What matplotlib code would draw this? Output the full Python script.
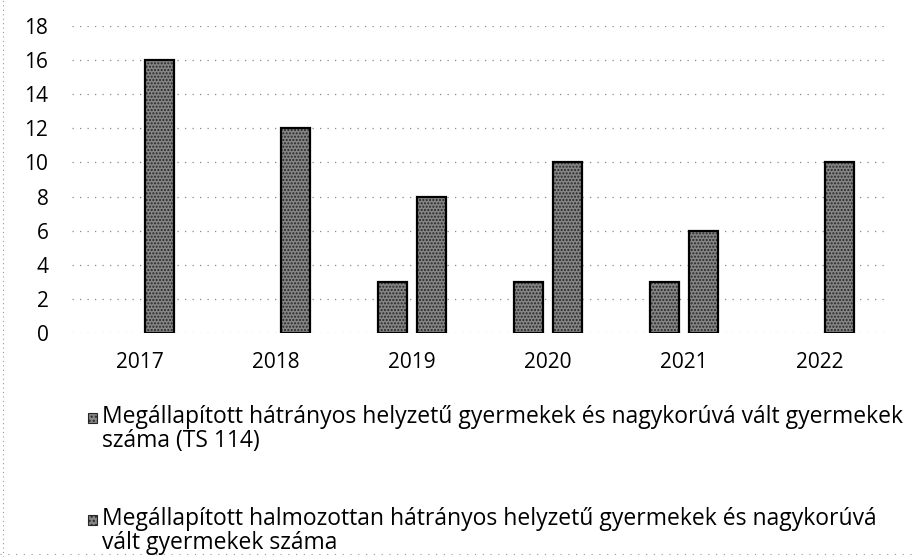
import numpy as np
import matplotlib.pyplot as plt
from matplotlib.lines import Line2D
from matplotlib.patches import Rectangle

plt.rcParams['font.family'] = ['Open Sans', 'DejaVu Sans']

years = ['2017', '2018', '2019', '2020', '2021', '2022']
hatranyos = [0, 0, 3, 3, 3, 0]
halmozottan = [16, 12, 8, 10, 6, 10]
series_labels = [
    'Megállapított hátrányos helyzetű gyermekek és nagykorúvá vált gyermekek\nszáma (TS 114)',
    'Megállapított halmozottan hátrányos helyzetű gyermekek és nagykorúvá\nvált gyermekek száma',
]

W, H = 918, 557
fig = plt.figure(figsize=(W / 100, H / 100), dpi=100)
ax = fig.add_axes([72 / W, 1 - 333 / H, 816 / W, 307 / H])

x = np.arange(len(years))
w = 0.21
off = 0.143
fill_style = dict(color='#858585', hatch='.....', edgecolor='#262626', lw=0, zorder=2)

# grainy fill first, black outline drawn on top; zero bars are left out like in the original
for vals, sign in ((hatranyos, -1), (halmozottan, 1)):
    xs = [xi + sign * off for xi, v in zip(x, vals) if v > 0]
    vs = [v for v in vals if v > 0]
    ax.bar(xs, vs, w, **fill_style)
    ax.bar(xs, vs, w, fill=False, edgecolor='black', lw=1.6, zorder=3)

ax.set_xlim(-0.5, len(years) - 0.5)
ax.set_ylim(0, 18)
ax.set_yticks(range(0, 19, 2))
ax.set_xticks(x)
ax.set_xticklabels(years)
ax.tick_params(axis='y', length=0, pad=17, labelsize=15)
ax.tick_params(axis='x', length=0, pad=14, labelsize=15)
ax.yaxis.grid(True, linestyle=(0, (1, 5)), color='#8a8a8a', lw=0.9, zorder=0)
for s in ax.spines.values():
    s.set_visible(False)

# legend below the plot, drawn by hand: marker sits on the first line of each entry
for i, label in enumerate(series_labels):
    base = 424 + 102 * i
    fig.add_artist(Rectangle((88 / W, 1 - (base - 1) / H), 9 / W, 10 / H, transform=fig.transFigure,
                             facecolor='#858585', hatch='....', edgecolor='#262626', lw=0.8))
    # baseline alignment uses the last line, so shift down one line
    fig.text(102 / W, 1 - (base + 23) / H, label, fontsize=16.5, va='baseline', ha='left', linespacing=0.98)

# faint scan border on the left and bottom
fig.add_artist(Line2D([3 / W, 3 / W], [0, 1], color='#999999', lw=0.8, linestyle=(0, (1, 3))))
fig.add_artist(Line2D([0, 1], [3 / H, 3 / H], color='#999999', lw=0.8, linestyle=(0, (1, 6))))

fig.savefig('out.png', dpi=100)
